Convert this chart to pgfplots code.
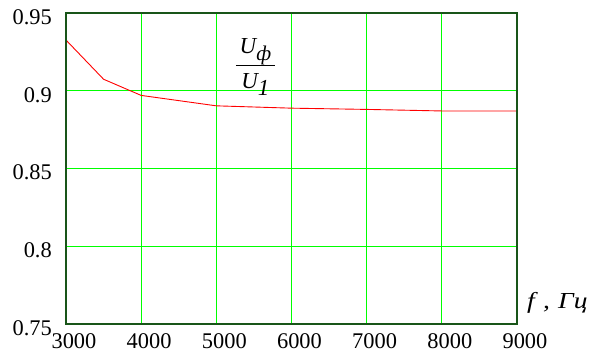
\documentclass[border=0pt]{standalone}
\usepackage{pgfplots}
\pgfplotsset{compat=1.18}
\usepackage{fontspec}
\setmainfont{Liberation Serif}
\definecolor{gridgreen}{RGB}{0,255,0}
\definecolor{framegreen}{RGB}{25,85,25}
\begin{document}
\begin{tikzpicture}
\useasboundingbox (-66bp,-28bp) rectangle (531bp,324bp);
\begin{axis}[at={(0,0)}, anchor=south west, scale only axis,
  width=451bp, height=311bp,
  xmin=3000, xmax=9000, ymin=0.75, ymax=0.95,
  xtick={3000,4000,5000,6000,7000,8000,9000},
  ytick={0.75,0.8,0.85,0.9,0.95},
  ymajorgrids, xmajorgrids=false,
  major grid style={draw=gridgreen, line width=1.3bp},
  axis line style={framegreen, line width=1.4pt},
  major tick length=0pt,
  scaled x ticks=false, scaled y ticks=false,
  /pgf/number format/assume math mode=true,
  /pgf/number format/set thousands separator={},
  xticklabel style={anchor=north, inner sep=0pt, yshift=-9bp, xshift=8bp, font=\fontsize{22.5}{26}\selectfont},
  yticklabel style={anchor=east, inner sep=0pt, xshift=-14bp, yshift=-4bp, font=\fontsize{22.5}{26}\selectfont},
  clip=false,
]
\foreach \gx in {4000,5000,6000,7000,8000} {
  \edef\temp{\noexpand\draw[gridgreen, line width=1.3bp] (axis cs:\gx,0.75) -- (axis cs:\gx,0.95);}
  \temp
}
\addplot[red, line width=0.9pt] coordinates {
  (3000,0.9326) (3500,0.9074) (4000,0.8970) (5000,0.8903)
  (6000,0.8888) (7000,0.8880) (8000,0.8870) (9000,0.8870)
};
\draw[framegreen, line width=1.4pt] (rel axis cs:0,0) rectangle (rel axis cs:1,1);
\node[inner sep=0pt] at (axis cs:5520,0.9160) {\fontsize{23}{27}\selectfont\itshape
  \begin{tabular}{@{\,}c@{\,}}U\raisebox{-0.3em}{\fontsize{21}{24}\selectfont ф}\\[1pt]\hline
  \rule{0pt}{1.0em}U\raisebox{-0.3em}{1}\end{tabular}};
\end{axis}
\node[anchor=base west, inner sep=0pt] at (461bp,16bp) {\scalebox{1.2}[1]{\fontsize{23}{27}\selectfont\itshape f\hspace{0.3em},\hspace{0.3em}Гц}};
\end{tikzpicture}
\end{document}
